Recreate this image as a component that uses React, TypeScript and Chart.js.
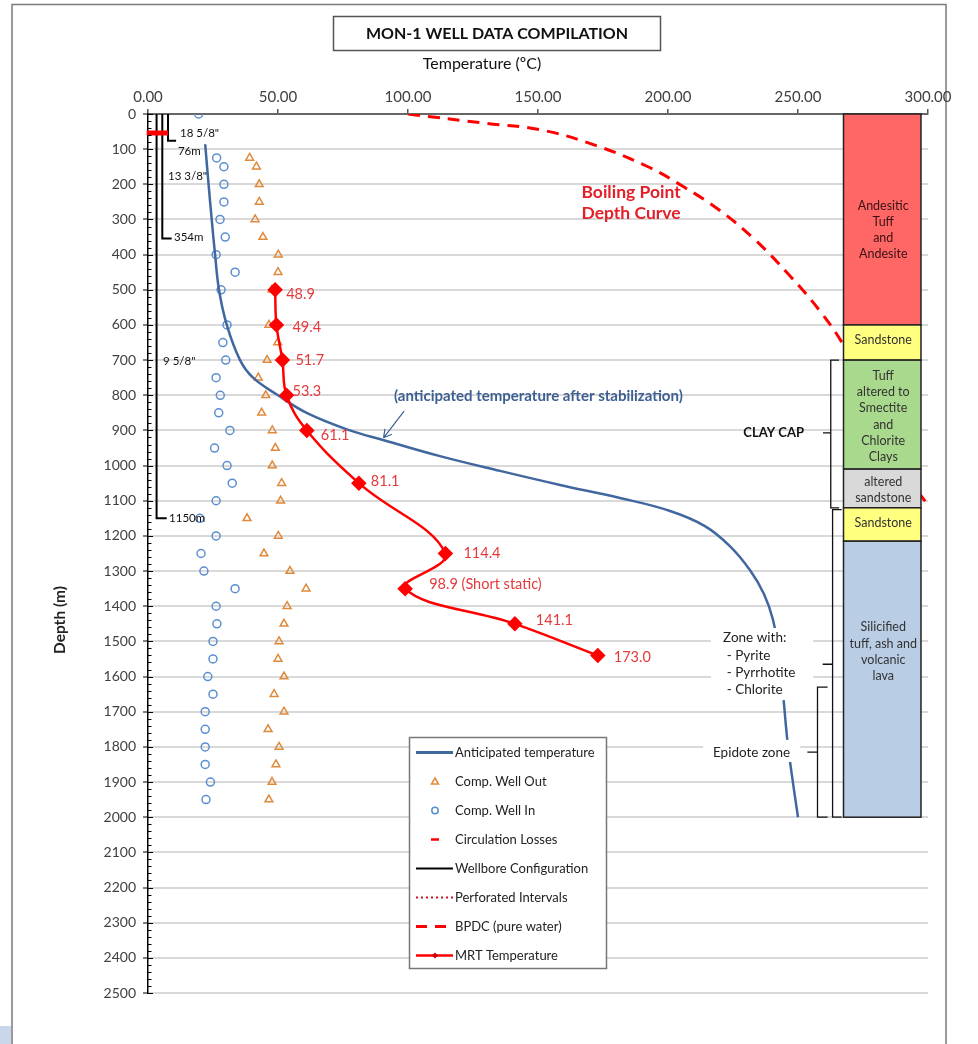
import React, { useEffect, useRef } from 'react';
import { Chart, registerables } from 'chart.js';
Chart.register(...registerables);

const FONT = 'Lato, "Open Sans", sans-serif';

// ---- data (temperature in °C, depth in m) ----
const anticipatedDepth = [86, 200, 300, 400, 500, 600, 700, 750, 800, 850, 900, 927, 973, 1015, 1055, 1092, 1129, 1172, 1229, 1297, 1365, 1439, 1550, 1677, 1781, 1857, 2000];
const anticipatedTemp = [22, 23.3, 24.5, 25.8, 27.3, 30.3, 35.4, 40.4, 50, 61, 77.7, 90.4, 112.3, 135.4, 158.5, 181.5, 200.8, 214.2, 223.8, 231.5, 236.9, 240.4, 243, 244.6, 245.9, 247.2, 250];

const wellOutDepth = [125, 150, 200, 250, 300, 350, 400, 450, 500, 600, 650, 700, 750, 800, 850, 900, 950, 1000, 1050, 1100, 1150, 1200, 1250, 1300, 1350, 1400, 1450, 1500, 1550, 1600, 1650, 1700, 1750, 1800, 1850, 1900, 1950];
const wellOutTemp = [39.1, 41.7, 42.8, 42.8, 41.2, 44.2, 50.1, 50, 47.7, 46.5, 49.9, 45.8, 42.4, 45.3, 43.7, 47.8, 49, 47.8, 51.4, 51, 38.1, 50.1, 44.6, 54.6, 60.8, 53.5, 52.3, 50.4, 50, 52.3, 48.5, 52.3, 46.2, 50.4, 49.2, 47.7, 46.5];

const wellInDepth = [0, 125, 150, 200, 250, 300, 350, 400, 450, 500, 600, 650, 700, 750, 800, 850, 900, 950, 1000, 1050, 1100, 1150, 1200, 1250, 1300, 1350, 1400, 1450, 1500, 1550, 1600, 1650, 1700, 1750, 1800, 1850, 1900, 1950];
const wellInTemp = [19.5, 26.4, 29.2, 29.2, 29.2, 27.7, 29.7, 26.2, 33.5, 28.1, 30.4, 28.8, 29.9, 26.2, 27.8, 27.2, 31.5, 25.6, 30.4, 32.4, 26.2, 19.9, 26.2, 20.4, 21.5, 33.5, 26.2, 26.5, 25, 25, 23, 25, 22, 22, 22, 22, 24, 22.3];

const lossDepth = [54, 54];
const lossTemp = [-0.5, 7.7];

const casing1Depth = [0, 76, 76];
const casing1Temp = [7.7, 7.7, 10.8];
const casing2Depth = [0, 354, 354];
const casing2Temp = [5.5, 5.5, 9.1];
const casing3Depth = [0, 1150, 1150];
const casing3Temp = [3.3, 3.3, 7.2];

const casingLabels = ['18 5/8"', '76m', '13 3/8"', '354m', '9 5/8"', '1150m'];
const casingLabelTemp = [12.3, 11.5, 7.7, 10, 5.8, 8.1];
const casingLabelDepth = [54, 107, 176, 352, 702, 1150];

const bpdDepth = [0, 27, 45, 88, 150, 207, 273, 358, 463, 558, 652, 750, 850, 950, 1050, 1112];
const bpdTemp = [100, 130.4, 151, 171.6, 192.3, 206, 219.7, 233.5, 247.2, 258.2, 267.1, 274, 281, 287.5, 294, 300];

const mrtDepth = [500, 600, 700, 800, 900, 1050, 1250, 1350, 1450, 1540];
const mrtTemp = [48.9, 49.4, 51.7, 53.3, 61.1, 81.1, 114.4, 98.9, 141.1, 173.0];
const mrtLabels = ['48.9', '49.4', '51.7', '53.3', '61.1', '81.1', '114.4', '98.9 (Short static)', '141.1', '173.0'];
// label placement offsets (px) relative to each MRT point
const mrtLabelDx = [11, 16, 13, 6, 14, 12, 18, 24, 21, 16];
const mrtLabelDy = [5, 2, 0, -4, 5, -2, 0, -4, -3, 2];

const lithTop = [0, 600, 700, 1010, 1120, 1215];
const lithBottom = [600, 700, 1010, 1120, 1215, 2000];
const lithColors = ['#ff6666', '#ffff80', '#a9d98c', '#d9d9d9', '#ffff80', '#b9cde5'];
const lithText = [
  ['Andesitic', 'Tuff', 'and', 'Andesite'],
  ['Sandstone'],
  ['Tuff', 'altered to', 'Smectite', 'and', 'Chlorite', 'Clays'],
  ['altered', 'sandstone'],
  ['Sandstone'],
  ['Silicified', 'tuff, ash and', 'volcanic', 'lava'],
];
const lithTextDepth = [330, 643, 860, 1069, 1163, 1529];
const lithLeftTemp = 267.5;
const lithRightTemp = 297.3;

const xTicks = [0, 50, 100, 150, 200, 250, 300];
const yMax = 2500;

const legendLabels = ['Anticipated temperature', 'Comp. Well Out', 'Comp. Well In', 'Circulation Losses', 'Wellbore Configuration', 'Perforated Intervals', 'BPDC (pure water)', 'MRT Temperature'];

const pts = (t: number[], d: number[]) => t.map((v, i) => ({ x: v, y: d[i] }));

const BLUE = '#41679f';
const RED = '#ff0000';
const ORANGE = '#e0893a';
const LBLUE = '#5b8fd0';

function bracket(ctx: CanvasRenderingContext2D, x: number, y1: number, y2: number, ym: number, tipR: number, tipL: number) {
  ctx.beginPath();
  ctx.moveTo(tipR, y1);
  ctx.lineTo(x, y1);
  ctx.lineTo(x, y2);
  ctx.lineTo(tipR, y2);
  ctx.moveTo(x, ym);
  ctx.lineTo(tipL, ym);
  ctx.stroke();
}

const deco = {
  id: 'deco',
  beforeDraw(chart: any) {
    const ctx = chart.ctx as CanvasRenderingContext2D;
    ctx.save();
    ctx.fillStyle = '#fff';
    ctx.fillRect(0, 0, chart.width, chart.height);
    // outer frame
    ctx.strokeStyle = '#7a7a7a';
    ctx.lineWidth = 1.5;
    ctx.beginPath();
    ctx.moveTo(12, 1044);
    ctx.lineTo(12, 4.5);
    ctx.lineTo(946, 4.5);
    ctx.lineTo(946, 1044);
    ctx.stroke();
    ctx.fillStyle = '#c9d7ea';
    ctx.fillRect(0, 1026, 11, 18);
    // title
    ctx.strokeStyle = '#555';
    ctx.lineWidth = 1.5;
    ctx.strokeRect(333.5, 16.5, 327, 34);
    ctx.fillStyle = '#111';
    ctx.textAlign = 'center';
    ctx.textBaseline = 'middle';
    ctx.font = `bold 16px ${FONT}`;
    ctx.fillText('MON-1 WELL DATA COMPILATION', 497, 34);
    ctx.font = `16px ${FONT}`;
    ctx.fillText('Temperature (\u00baC)', 482, 64);
    // y title
    ctx.translate(60, 620);
    ctx.rotate(-Math.PI / 2);
    ctx.font = `bold 15.5px ${FONT}`;
    ctx.fillStyle = '#222';
    ctx.fillText('Depth (m)', 0, 0);
    ctx.restore();
  },
  afterDatasetsDraw(chart: any) {
    const ctx = chart.ctx as CanvasRenderingContext2D;
    const X = (v: number) => chart.scales.x.getPixelForValue(v);
    const Y = (v: number) => chart.scales.y.getPixelForValue(v);
    ctx.save();

    // minor / inner ticks on depth axis
    const ax = chart.chartArea.left;
    ctx.strokeStyle = '#000';
    ctx.lineWidth = 1;
    for (let d = 0; d <= yMax; d += 20) {
      const y = Math.round(Y(d)) + 0.5;
      ctx.beginPath();
      ctx.moveTo(ax, y);
      ctx.lineTo(ax + (d % 100 === 0 ? 5 : 3.5), y);
      ctx.stroke();
    }

    // lithology column
    const cl = X(lithLeftTemp), cr = X(lithRightTemp);
    for (let i = 0; i < lithTop.length; i++) {
      const t = Y(lithTop[i]), b = Y(lithBottom[i]);
      ctx.fillStyle = lithColors[i];
      ctx.fillRect(cl, t, cr - cl, b - t);
      ctx.strokeStyle = '#222';
      ctx.lineWidth = 1.5;
      ctx.strokeRect(cl, t, cr - cl, b - t);
      const lines = lithText[i];
      const lh = 16.2;
      const cy = Y(lithTextDepth[i]);
      ctx.fillStyle = i === 0 ? '#3a1212' : '#333';
      ctx.font = `12.5px ${FONT}`;
      ctx.textAlign = 'center';
      ctx.textBaseline = 'middle';
      lines.forEach((s, k) => ctx.fillText(s, (cl + cr) / 2 + 1, cy + (k - (lines.length - 1) / 2) * lh));
    }

    // white label boxes (mask curve & grid)
    ctx.fillStyle = '#fff';
    ctx.fillRect(X(216.5), Y(1462), X(255.8) - X(216.5), Y(1667) - Y(1462));
    ctx.fillRect(X(213.5), Y(1780), X(250.8) - X(213.5), Y(1843) - Y(1780));
    ctx.fillStyle = '#222';
    ctx.font = `13.5px ${FONT}`;
    ctx.textAlign = 'left';
    ctx.textBaseline = 'middle';
    ctx.fillText('Zone with:', X(221.2), Y(1490));
    ctx.fillText('- Pyrite', X(222.6), Y(1540));
    ctx.fillText('- Pyrrhotite', X(222.6), Y(1589));
    ctx.fillText('- Chlorite', X(222.6), Y(1637));
    ctx.fillText('Epidote zone', X(217.3), Y(1817));

    // brackets
    ctx.strokeStyle = '#111';
    ctx.lineWidth = 1.3;
    bracket(ctx, X(262.6), Y(700), Y(1120), Y(907), X(265.8), X(259.6));
    bracket(ctx, X(263.3), Y(1125), Y(2000), Y(1565), X(266.8), X(259.5));
    bracket(ctx, X(257.5), Y(1630), Y(2000), Y(1815), X(261.4), X(253.6));
    ctx.fillStyle = '#111';
    ctx.font = `bold 13px ${FONT}`;
    ctx.textAlign = 'right';
    ctx.fillText('CLAY CAP', X(252.3), Y(907));

    // Boiling point text
    ctx.fillStyle = '#e3202a';
    ctx.font = `bold 17.5px ${FONT}`;
    ctx.textAlign = 'center';
    ctx.fillText('Boiling Point', X(185.8), Y(222));
    ctx.fillText('Depth Curve', X(185.8), Y(282));

    // anticipated note + arrow
    ctx.fillStyle = '#3e5f91';
    ctx.font = `bold 15px ${FONT}`;
    ctx.textAlign = 'left';
    ctx.fillText('(anticipated temperature after stabilization)', X(94.6), Y(802));
    const ax1 = X(98.5), ay1 = Y(845), ax2 = X(90.6), ay2 = Y(921);
    ctx.strokeStyle = '#3e5f91';
    ctx.lineWidth = 1.2;
    ctx.beginPath();
    ctx.moveTo(ax1, ay1);
    ctx.lineTo(ax2, ay2);
    const ang = Math.atan2(ay2 - ay1, ax2 - ax1);
    for (const s of [-0.5, 0.5]) {
      ctx.moveTo(ax2, ay2);
      ctx.lineTo(ax2 - 9 * Math.cos(ang + s), ay2 - 9 * Math.sin(ang + s));
    }
    ctx.stroke();

    // MRT labels
    ctx.fillStyle = '#e5393b';
    ctx.font = `14.5px ${FONT}`;
    ctx.textAlign = 'left';
    mrtLabels.forEach((s, i) => ctx.fillText(s, X(mrtTemp[i]) + mrtLabelDx[i], Y(mrtDepth[i]) + mrtLabelDy[i]));

    // casing labels
    ctx.fillStyle = '#111';
    ctx.font = `11.5px ${FONT}`;
    casingLabels.forEach((s, i) => ctx.fillText(s, X(casingLabelTemp[i]), Y(casingLabelDepth[i])));

    // legend
    const lx = 409.5, ly = 737.5, lw = 197, lhh = 231;
    ctx.fillStyle = '#fff';
    ctx.fillRect(lx, ly, lw, lhh);
    ctx.strokeStyle = '#777';
    ctx.lineWidth = 1.5;
    ctx.strokeRect(lx, ly, lw, lhh);
    const sx1 = 416, sx2 = 453, sc = 435;
    legendLabels.forEach((s, i) => {
      const y = 752.5 + i * 29;
      ctx.save();
      ctx.setLineDash([]);
      switch (i) {
        case 0:
          ctx.strokeStyle = BLUE; ctx.lineWidth = 3;
          ctx.beginPath(); ctx.moveTo(sx1, y); ctx.lineTo(sx2, y); ctx.stroke();
          break;
        case 1:
          ctx.strokeStyle = ORANGE; ctx.lineWidth = 1.5;
          ctx.beginPath(); ctx.moveTo(sc, y - 3.5); ctx.lineTo(sc + 3.5, y + 2.5); ctx.lineTo(sc - 3.5, y + 2.5); ctx.closePath(); ctx.stroke();
          break;
        case 2:
          ctx.strokeStyle = LBLUE; ctx.lineWidth = 1.5;
          ctx.beginPath(); ctx.arc(sc, y, 3.2, 0, Math.PI * 2); ctx.stroke();
          break;
        case 3:
          ctx.strokeStyle = RED; ctx.lineWidth = 2.5;
          ctx.beginPath(); ctx.moveTo(sc - 4, y); ctx.lineTo(sc + 4, y); ctx.stroke();
          break;
        case 4:
          ctx.strokeStyle = '#000'; ctx.lineWidth = 2;
          ctx.beginPath(); ctx.moveTo(sx1, y); ctx.lineTo(sx2, y); ctx.stroke();
          break;
        case 5:
          ctx.strokeStyle = '#d0102a'; ctx.lineWidth = 2; ctx.setLineDash([2, 3]);
          ctx.beginPath(); ctx.moveTo(sx1, y); ctx.lineTo(sx2, y); ctx.stroke();
          break;
        case 6:
          ctx.strokeStyle = RED; ctx.lineWidth = 3; ctx.setLineDash([11, 8]);
          ctx.beginPath(); ctx.moveTo(sx1, y); ctx.lineTo(sx2, y); ctx.stroke();
          break;
        case 7:
          ctx.strokeStyle = RED; ctx.lineWidth = 2.5;
          ctx.beginPath(); ctx.moveTo(sx1, y); ctx.lineTo(sx2, y); ctx.stroke();
          ctx.fillStyle = '#c00';
          ctx.beginPath(); ctx.moveTo(sc, y - 3); ctx.lineTo(sc + 3, y); ctx.lineTo(sc, y + 3); ctx.lineTo(sc - 3, y); ctx.closePath(); ctx.fill();
          break;
      }
      ctx.restore();
      ctx.fillStyle = '#222';
      ctx.font = `13px ${FONT}`;
      ctx.textAlign = 'left';
      ctx.textBaseline = 'middle';
      ctx.fillText(s, 455, y);
    });
    ctx.restore();
  },
};

export default function App() {
  const ref = useRef<HTMLCanvasElement>(null);
  useEffect(() => {
    const lineBase = { showLine: true, pointRadius: 0, pointHoverRadius: 0, fill: false };
    const chart = new Chart(ref.current as HTMLCanvasElement, {
      type: 'scatter',
      data: {
        datasets: [
          {
            label: 'MRT Temperature', data: pts(mrtTemp, mrtDepth), showLine: true, borderColor: RED, borderWidth: 2.5,
            pointStyle: 'rectRot', pointRadius: 6, pointBackgroundColor: RED, pointBorderColor: RED, tension: 0.4,
          } as any,
          { label: 'Anticipated temperature', data: pts(anticipatedTemp, anticipatedDepth), ...lineBase, borderColor: BLUE, borderWidth: 2.5, tension: 0.4 } as any,
          {
            label: 'Comp. Well Out', data: pts(wellOutTemp, wellOutDepth), showLine: false, pointStyle: 'triangle', pointRadius: 4.5,
            pointBorderColor: ORANGE, pointBackgroundColor: 'rgba(0,0,0,0)', pointBorderWidth: 1.5,
          } as any,
          {
            label: 'Comp. Well In', data: pts(wellInTemp, wellInDepth), showLine: false, pointStyle: 'circle', pointRadius: 4,
            pointBorderColor: LBLUE, pointBackgroundColor: 'rgba(0,0,0,0)', pointBorderWidth: 1.5,
          } as any,
          { label: 'Circulation Losses', data: pts(lossTemp, lossDepth), ...lineBase, borderColor: RED, borderWidth: 5, clip: 4 } as any,
          { label: 'Wellbore Configuration', data: pts(casing1Temp, casing1Depth), ...lineBase, borderColor: '#000', borderWidth: 2 } as any,
          { label: 'casing 13 3/8', data: pts(casing2Temp, casing2Depth), ...lineBase, borderColor: '#000', borderWidth: 2 } as any,
          { label: 'casing 9 5/8', data: pts(casing3Temp, casing3Depth), ...lineBase, borderColor: '#000', borderWidth: 2 } as any,
          { label: 'BPDC (pure water)', data: pts(bpdTemp, bpdDepth), ...lineBase, borderColor: RED, borderWidth: 3, borderDash: [12, 8], tension: 0.4 } as any,
        ],
      },
      options: {
        responsive: false,
        devicePixelRatio: 1,
        animation: false,
        events: [],
        layout: { padding: { left: 0, right: 50, top: 0, bottom: 51 } },
        plugins: { legend: { display: false }, tooltip: { enabled: false }, title: { display: false } },
        scales: {
          x: {
            type: 'linear', position: 'top', min: 0, max: 300,
            afterFit: (s: any) => { s.height = 114; },
            afterBuildTicks: (s: any) => { s.ticks = xTicks.map((v) => ({ value: v })); },
            ticks: { callback: (v: any) => Number(v).toFixed(2), color: '#404040', font: { family: FONT, size: 15 }, padding: 3, maxRotation: 0 },
            grid: { drawOnChartArea: false, tickLength: 5, tickColor: '#555', lineWidth: 1.5 },
            border: { display: true, color: '#666', width: 2 },
          },
          y: {
            type: 'linear', reverse: true, min: 0, max: yMax,
            afterFit: (s: any) => { s.width = 148; },
            ticks: { stepSize: 100, color: '#404040', font: { family: FONT, size: 14 }, padding: 7, callback: (v: any) => String(v) },
            grid: { color: '#d9d9d9', lineWidth: 2, tickColor: '#000', tickLength: 5, tickWidth: 1 },
            border: { display: true, color: '#000', width: 1.5 },
          },
        },
      } as any,
      plugins: [deco],
    });
    return () => chart.destroy();
  }, []);
  return (
    <div style={{ position: 'absolute', left: 0, top: 0, width: 978, height: 1044, background: '#fff' }}>
      <canvas ref={ref} width={978} height={1044} style={{ display: 'block', width: 978, height: 1044 }} />
    </div>
  );
}
